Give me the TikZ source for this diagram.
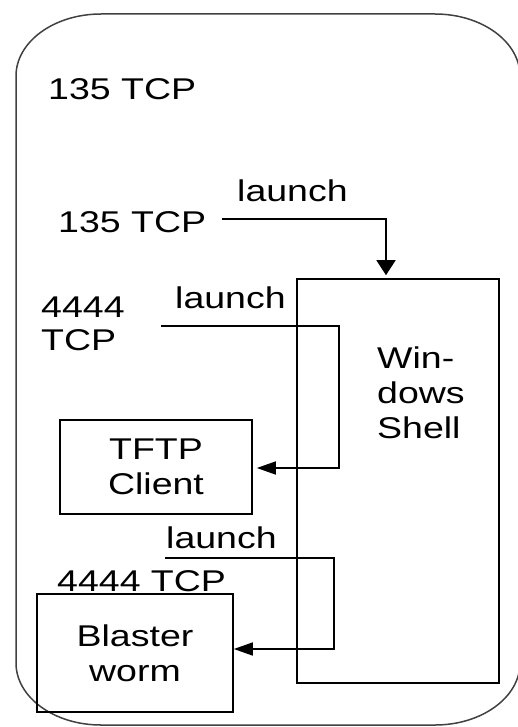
\documentclass[tikz,border=0pt]{standalone}
\usepackage{fontspec}
\newfontfamily\arialw[FakeStretch=1.25]{Liberation Sans}
\usetikzlibrary{arrows.meta}
\tikzset{
  lbl/.style={inner sep=0pt, font=\arialw\fontsize{30}{35}\selectfont, text=black},
  boxnode/.style={draw=black, line width=1.6pt, inner sep=0pt, align=center,
    font=\arialw\fontsize{30}{35}\selectfont},
  conn/.style={draw=black, line width=1.6pt},
  varrow/.style={conn, -{Triangle[length=15pt,width=19pt]}},
  harrow/.style={conn, -{Triangle[length=19pt,width=13pt]}},
  outer/.style={draw=black!75, line width=1.5pt}
}
\begin{document}
\begin{tikzpicture}[x=1pt,y=-1pt]
\useasboundingbox (0,0) rectangle (517,727);
% outer rounded frame
\draw[outer] (16,76) .. controls (16,41.8) and (54.1,14) .. (101,14)
  -- (435,14) .. controls (481.9,14) and (520,41.8) .. (520,76)
  -- (520,663) .. controls (520,697.2) and (481.9,725) .. (435,725)
  -- (101,725) .. controls (54.1,725) and (16,697.2) .. (16,663) -- cycle;
% boxes
\node[boxnode, minimum width=202pt, minimum height=404pt] (shell) at (398,481) {};
\node[lbl, align=left, anchor=north west] (shelltxt) at (377,346.5) {Win-\\dows\\Shell};
\node[boxnode, minimum width=192pt, minimum height=94pt] (tftp) at (156,467) {TFTP\\Client};
\node[boxnode, minimum width=196pt, minimum height=118pt] (blaster) at (135,653) {Blaster\\worm};
% labels
\node[lbl, anchor=base west] (t1) at (48,100) {135 TCP};
\node[lbl, anchor=base west] (l1) at (237,202) {launch};
\node[lbl, anchor=base west] (t2) at (58,232) {135 TCP};
\node[lbl, anchor=base west] (l2) at (175,308) {launch};
\node[lbl, align=left, anchor=north west] (t3) at (41,297) {4444\\[-2pt]TCP};
\node[lbl, anchor=base west] (l3) at (166,548) {launch};
\node[lbl, anchor=base west] (t4) at (57,591) {4444 TCP};
% connector 1
\coordinate (c1) at (222,219);
\coordinate (k1) at (386,219);
\draw[varrow, shorten >=3pt] (c1) -- (k1) -- (k1 |- shell.north);
% connector 2
\coordinate (c2) at (161,326);
\coordinate (k2) at (339,326);
\coordinate (k2b) at (339,468);
\coordinate (e2) at ([xshift=4pt]tftp.east);
\draw[harrow] (c2) -- (k2) -- (k2b) -- (k2b -| e2);
% connector 3
\coordinate (c3) at (165,558);
\coordinate (k3) at (334,558);
\coordinate (k3b) at (334,649);
\draw[harrow] (c3) -- (k3) -- (k3b) -- (k3b -| blaster.east);
\end{tikzpicture}
\end{document}
